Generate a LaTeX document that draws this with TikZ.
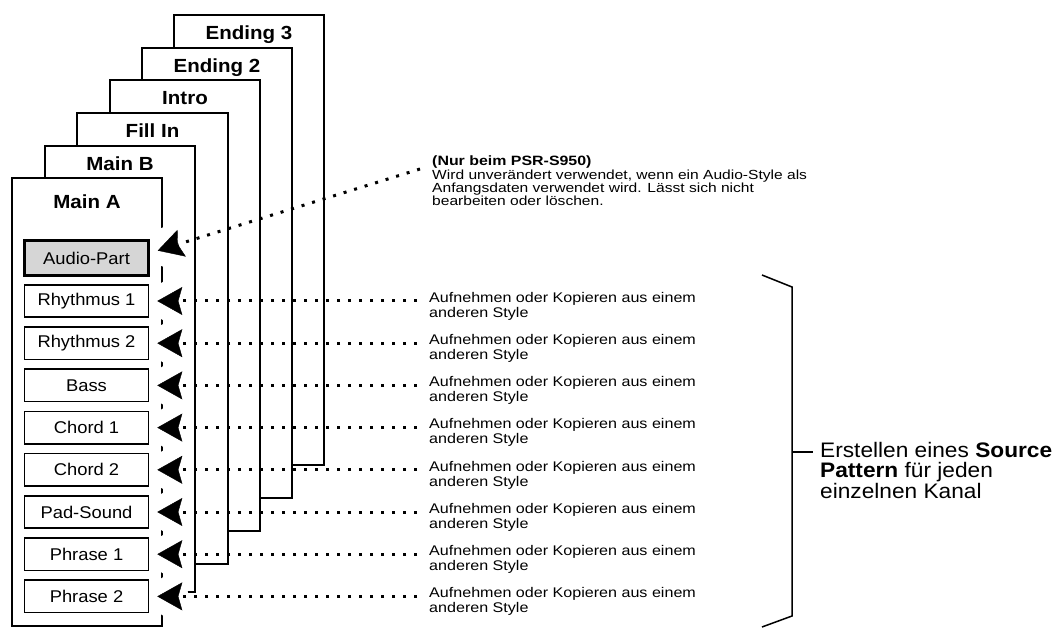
\documentclass[tikz,border=0pt]{standalone}
\usepackage{fontspec}
\setmainfont{Liberation Sans}[FakeStretch=1.08]
\newfontfamily\lblfont{Liberation Sans}[FakeStretch=1.15]
\newfontfamily\notefont{Liberation Sans}[FakeStretch=1.18]
\usetikzlibrary{arrows.meta,calc}
\tikzset{
  sheet/.style={draw=black, fill=white, line width=2.8pt},
  sheettitle/.style={anchor=base, inner sep=0pt, font=\fontsize{19}{19}\selectfont\bfseries},
  part/.style={draw=black, fill=white, line width=1.6pt, minimum width=124pt,
    minimum height=32.5pt, inner sep=0pt, font=\fontsize{17}{17}\selectfont},
  audiopart/.style={part, line width=3.2pt, fill=black!16, minimum height=34.5pt},
  hint/.style={anchor=north west, inner sep=0pt, align=left,
    font=\lblfont\fontsize{14}{15}\selectfont},
  notetext/.style={anchor=north west, inner sep=0pt, align=left,
    font=\notefont\fontsize{13.2}{13.2}\selectfont},
  feed/.style={line width=3pt, dash pattern=on 3pt off 8pt,
    -{Stealth[length=25pt,width=28pt,inset=4pt,line width=0.4pt]}, shorten >=8pt},
  halo/.style={fill=white},
  brace/.style={line width=1.5pt},
}
\begin{document}
\begin{tikzpicture}[x=1pt,y=-1pt]
\useasboundingbox (0,0) rectangle (1053,628);

% stacked section sheets, back to front
\foreach \pn/\xa/\ya/\xb/\yb/\ttl in {e3/174/15/324/465/Ending 3,
    e2/142/48/292/498/Ending 2, io/110/80/260/531/Intro,
    fi/77/113/228/564/Fill In, mb/45/146/195/592/Main B}{
  \draw[sheet] (\xa,\ya) rectangle (\xb,\yb);
  \node[sheettitle] (t\pn) at ({(\xa+\xb)/2},\ya+24.5) {\ttl};
}
\draw[sheet] (12,178) rectangle (162,626);
\node[sheettitle] (tma) at (87,208.5) {Main A};

% channel parts of the front sheet
\node[audiopart] (ap) at (86.5,258) {Audio-Part};
\fill[halo] ([xshift=19pt,yshift=11pt]ap.east) ellipse [x radius=18pt, y radius=21pt];

\foreach \nm/\yy/\txt in {r1/301/Rhythmus 1, r2/343.2/Rhythmus 2, ba/385.4/Bass,
    c1/427.6/Chord 1, c2/469.8/Chord 2, pd/512/Pad-Sound,
    p1/554.2/Phrase 1, p2/596.4/Phrase 2}{
  \node[part] (\nm) at (86.5,\yy) {\txt};
  \fill[halo] ([xshift=21pt]\nm.east) ellipse [x radius=18pt, y radius=21pt];
  \node[hint] (h\nm) at (429,\yy-9) {Aufnehmen oder Kopieren aus einem\\anderen Style};
  \draw[feed, shorten <=12pt] (h\nm.west |- \nm.east) -- (\nm.east);
}

% note on the audio part
\node[notetext] (nt) at (432,156) {{\bfseries\fontsize{13.5}{13.5}\selectfont (Nur beim PSR-S950)}\\
  Wird unverändert verwendet, wenn ein Audio-Style als\\
  Anfangsdaten verwendet wird. Lässt sich nicht\\
  bearbeiten oder löschen.};
\coordinate (nd) at (420,169);
\draw[feed] (nd) -- ([yshift=5pt]ap.east);

% bracket over all channels
\node[anchor=north west, inner sep=0pt, align=left, font=\fontsize{21}{20.3}\selectfont]
  (src) at (820,442) {Erstellen eines \textbf{Source}\\\textbf{Pattern} für jeden\\einzelnen Kanal};
\coordinate (bt) at (762,275);
\coordinate (bb) at (762,627);
\coordinate (bm) at (792,452);
\draw[brace] (bt) -- (792,287) -- (792,616) -- (bb);
\draw[brace, shorten >=7pt] (bm) -- (src.west |- bm);
\end{tikzpicture}
\end{document}
